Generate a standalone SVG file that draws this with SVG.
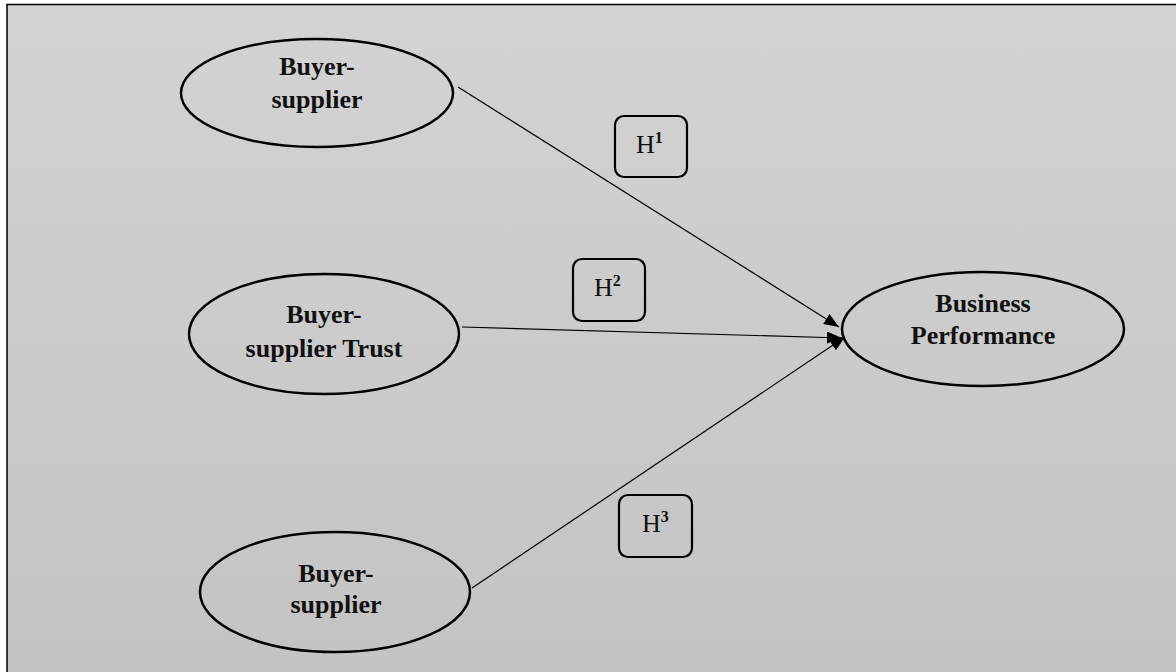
<svg xmlns="http://www.w3.org/2000/svg" width="1176" height="672" viewBox="0 0 1176 672">
<defs>
<linearGradient id="bg" x1="0" y1="0" x2="0" y2="1">
<stop offset="0" stop-color="#d3d3d3"/>
<stop offset="1" stop-color="#c3c3c3"/>
</linearGradient>
<marker id="arr" markerWidth="16" markerHeight="12" refX="15" refY="6" orient="auto" markerUnits="userSpaceOnUse">
<path d="M0,0 L15,6 L0,12 Z" fill="#000"/>
</marker>
</defs>
<style>
.node ellipse{fill:none;stroke:#000;stroke-width:2.5}
.lbl{font-family:"Liberation Serif","Times New Roman",serif;font-weight:bold;font-size:26px;fill:#111;text-anchor:middle}
.hbox rect{fill:none;stroke:#000;stroke-width:2.2}
.h{font-family:"Liberation Serif","Times New Roman",serif;font-size:26px;fill:#111}
.sup{font-size:16px;font-weight:bold}
.conn line{stroke:#000;stroke-width:1.2;marker-end:url(#arr)}
</style>
<rect x="0" y="0" width="1176" height="672" fill="#ffffff"/>
<rect x="7" y="4.5" width="1180" height="680" fill="url(#bg)" stroke="#000" stroke-width="1.5"/>

<g id="connectors" class="conn">
<line x1="458" y1="87" x2="839" y2="327"/>
<line x1="462" y1="327" x2="842" y2="338"/>
<line x1="472" y1="588" x2="845" y2="337"/>
</g>

<g id="node-bs1" class="node">
<ellipse cx="317" cy="93" rx="136" ry="54"/>
<text class="lbl" x="317" y="75">Buyer-</text>
<text class="lbl" x="317" y="108">supplier</text>
</g>
<g id="node-bst" class="node">
<ellipse cx="324" cy="334" rx="135" ry="60"/>
<text class="lbl" x="324" y="323">Buyer-</text>
<text class="lbl" x="324" y="357">supplier Trust</text>
</g>
<g id="node-bs3" class="node">
<ellipse cx="335" cy="592" rx="135" ry="60"/>
<text class="lbl" x="336" y="582">Buyer-</text>
<text class="lbl" x="336" y="613">supplier</text>
</g>
<g id="node-bp" class="node">
<ellipse cx="983" cy="329" rx="141" ry="57"/>
<text class="lbl" x="983" y="312">Business</text>
<text class="lbl" x="983" y="344">Performance</text>
</g>

<g id="h1" class="hbox">
<rect x="615" y="116" width="72" height="61" rx="9"/>
<text class="h" x="636" y="153">H<tspan class="sup" dy="-10">1</tspan></text>
</g>
<g id="h2" class="hbox">
<rect x="573" y="259" width="72" height="62" rx="9"/>
<text class="h" x="594" y="296">H<tspan class="sup" dy="-10">2</tspan></text>
</g>
<g id="h3" class="hbox">
<rect x="619" y="495" width="73" height="62" rx="9"/>
<text class="h" x="642" y="532">H<tspan class="sup" dy="-10">3</tspan></text>
</g>
</svg>
